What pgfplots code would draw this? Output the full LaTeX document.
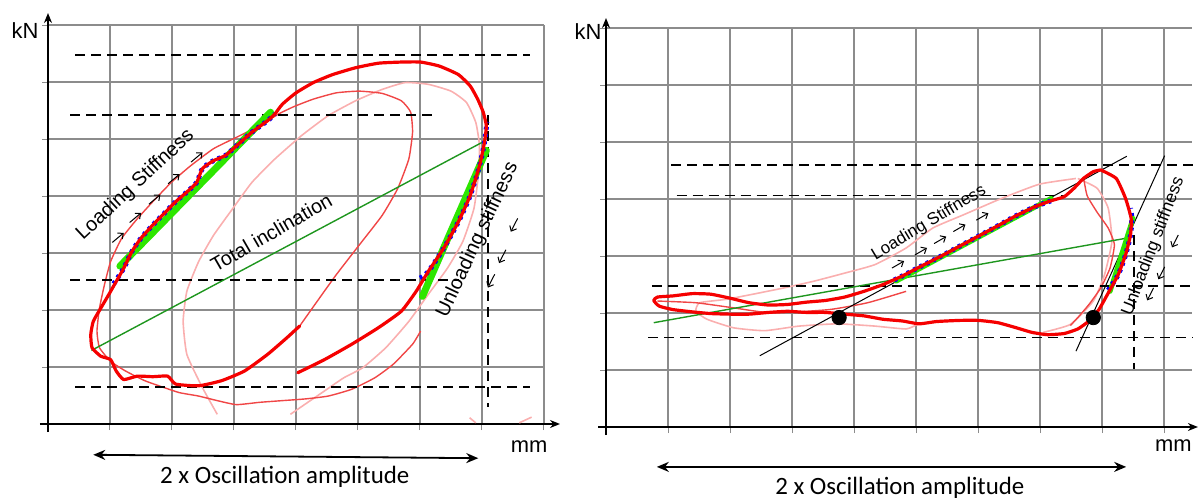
\documentclass[border=0pt]{standalone}
\usepackage{fontspec}
\setmainfont{Liberation Sans}
\newfontfamily\calibri{Carlito}
\usepackage{pgfplots}
\pgfplotsset{compat=1.18}
\usetikzlibrary{arrows.meta}

\definecolor{curvered}{RGB}{245,0,0}
\definecolor{thinred}{RGB}{240,70,70}
\definecolor{pale}{RGB}{250,175,175}
\definecolor{lime}{RGB}{45,230,0}
\definecolor{linegreen}{RGB}{30,150,30}
\definecolor{gridgray}{RGB}{140,140,140}

\pgfplotsset{
  panel/.style={
    scale only axis, clip=false, anchor=south west,
    axis lines=left,
    axis line style={line width=0.7bp},
    ymin=0, ymax=7, ytick={0,...,7},
    xticklabels={}, yticklabels={},
    tick align=outside, major tick length=3bp,
    tick style={gridgray, line width=0.5bp},
    grid=major, grid style={gridgray, line width=0.6bp},
  },
  bigred/.style={curvered, line width=1.6bp, line join=round, line cap=round, smooth, tension=0.3},
  smallred/.style={thinred, line width=0.7bp, line join=round, smooth, tension=0.3},
  palered/.style={pale, line width=0.8bp, line join=round, smooth, tension=0.3},
  fitline/.style={lime, line width=3.5bp, line cap=round},
  slopeline/.style={linegreen, line width=0.7bp},
  dotline/.style={blue, line width=2.5bp, dash pattern=on 1.4bp off 2.2bp, smooth},
  guide/.style={black, line width=0.9bp, dash pattern=on 5bp off 3bp},
}
\tikzset{
  sarrow/.style={black, line width=0.5bp, -{Straight Barb[length=2.2bp,width=3.8bp]}},
  span/.style={black, line width=0.9bp, {Stealth[length=6bp,width=5bp]}-{Stealth[length=6bp,width=5bp]}},
}
\newcommand{\sarr}[3]{\draw[sarrow] (axis cs:#1) ++({#2+180}:#3/2) -- ++(#2:#3);}

\begin{document}
\begin{tikzpicture}
\useasboundingbox (0,0) rectangle (599bp,249bp);

% ---------------- left panel ----------------
\begin{axis}[panel, at={(24bp,37bp)}, width=248bp, height=199.5bp,
  xmin=0, xmax=8, xtick={0,...,8},
  x axis line style={-{Stealth[length=5bp,width=4bp]}, shorten >=-8bp, shorten <=-4bp},
  y axis line style={-{Stealth[length=5bp,width=4bp]}, shorten >=-6bp, shorten <=-4bp}]

\addplot[palered] coordinates {
(2.73,0.17) (2.49,0.64) (2.24,1.22) (2.18,1.80) (2.24,2.33) (2.43,2.85) (2.67,3.31)
(2.98,3.78) (3.29,4.24) (3.66,4.65) (4.09,5.06) (4.52,5.41) (4.96,5.67) (5.39,5.87)
(5.76,5.99) (6.13,5.96) (6.50,5.84) (6.75,5.64) (6.90,5.29) (6.96,4.88) (6.94,4.36)
(6.87,3.78) (6.69,3.20) (6.44,2.73) (6.13,2.27) (5.82,1.80) (5.45,1.34) (5.08,0.99)
(4.77,0.81) (4.46,0.58) (4.15,0.35) (3.91,0.17)};
\addplot[palered] coordinates {(6.80,0.11) (6.90,0.02)};
\addplot[palered] coordinates {(7.60,0.02) (7.80,0.12)};

\addplot[smallred] coordinates {
(4.06,1.72) (4.34,2.15) (4.65,2.62) (5.02,3.14) (5.39,3.66) (5.64,4.13) (5.82,4.65)
(5.88,5.12) (5.85,5.47) (5.70,5.67) (5.39,5.80) (5.02,5.84) (4.65,5.81) (4.28,5.70)
(3.97,5.57) (3.72,5.44) (3.41,5.23) (3.04,5.03) (2.67,4.83) (2.30,4.53) (1.99,4.24)
(1.69,3.90) (1.44,3.60) (1.19,3.26) (1.01,2.85) (0.91,2.44) (0.83,2.03) (0.79,1.63)
(0.83,1.34) (1.01,1.10) (1.25,0.93) (1.56,0.76) (1.87,0.64) (2.12,0.55) (2.43,0.49)
(2.73,0.41) (3.04,0.34) (3.41,0.38) (3.78,0.41) (4.15,0.44) (4.52,0.49) (4.90,0.61)
(5.27,0.81) (5.57,1.05) (5.88,1.40) (6.01,1.63)};

\addplot[guide] coordinates {(0.44,6.47) (7.77,6.47)};
\addplot[guide] coordinates {(0.36,5.42) (6.20,5.42)};
\addplot[guide] coordinates {(0.36,2.53) (6.63,2.53)};
\addplot[guide] coordinates {(0.44,0.65) (7.77,0.65)};
\addplot[guide] coordinates {(7.10,5.42) (7.10,0.30)};

\addplot[slopeline] coordinates {(0.70,1.29) (7.00,4.94)};
\addplot[fitline] coordinates {(1.16,2.77) (3.59,5.47)};
\addplot[fitline] coordinates {(6.04,2.24) (7.07,4.80)};

\addplot[dotline] coordinates {
(1.06,2.46) (1.22,2.73) (1.35,3.02) (1.50,3.26) (1.69,3.49) (1.87,3.69) (2.06,3.90)
(2.24,4.07) (2.40,4.24) (2.49,4.48) (2.67,4.62) (2.86,4.71) (3.04,4.88) (3.29,5.12)
(3.54,5.32) (3.66,5.44)};
\addplot[dotline] coordinates {
(6.00,2.56) (6.13,2.67) (6.38,3.08) (6.62,3.55) (6.81,4.01) (6.96,4.53) (7.04,4.94)
(7.08,5.30)};

\addplot[bigred] coordinates {
(4.03,0.90) (4.46,1.13) (4.90,1.40) (5.33,1.69) (5.70,1.98) (5.94,2.33) (6.13,2.67)
(6.38,3.08) (6.62,3.55) (6.81,4.01) (6.96,4.53) (7.04,4.94) (7.07,5.23) (7.02,5.47)
(6.93,5.70) (6.81,5.93) (6.62,6.13) (6.31,6.28) (6.01,6.35) (5.70,6.35) (5.33,6.33)
(4.96,6.25) (4.59,6.13) (4.28,5.99) (4.00,5.81) (3.78,5.61) (3.66,5.44) (3.54,5.32)
(3.29,5.12) (3.04,4.88) (2.86,4.71) (2.67,4.62) (2.49,4.48) (2.40,4.24) (2.24,4.07)
(2.06,3.90) (1.87,3.69) (1.69,3.49) (1.50,3.26) (1.35,3.02) (1.22,2.73) (1.10,2.50)
(0.98,2.27) (0.85,2.03) (0.73,1.80) (0.69,1.57) (0.71,1.34) (0.85,1.19) (1.01,1.13)
(1.10,0.93) (1.22,0.78) (1.44,0.84) (1.69,0.83) (1.93,0.84) (2.06,0.70) (2.43,0.67)
(2.80,0.76) (3.17,0.93) (3.54,1.22) (3.85,1.51) (4.06,1.72)};

\sarr{1.13,3.27}{40}{7.5bp}
\sarr{1.41,3.62}{40}{7.5bp}
\sarr{1.72,3.94}{40}{7.5bp}
\sarr{2.03,4.30}{40}{7.5bp}
\sarr{2.40,4.68}{40}{7.5bp}
\sarr{7.52,3.49}{243}{7.5bp}
\sarr{7.33,2.94}{243}{7.5bp}
\sarr{7.15,2.51}{243}{7.5bp}

\node[rotate=43, font=\fontsize{10}{12}\selectfont] at (axis cs:1.41,4.19) {Loading Stiffness};
\node[rotate=30, font=\fontsize{10}{12}\selectfont] at (axis cs:3.60,3.36) {Total inclination};
\node[rotate=65, font=\fontsize{10}{12}\selectfont] at (axis cs:6.93,3.23) {Unloading stiffness};

\node[font=\fontsize{11}{13}\selectfont] at (axis cs:-0.37,6.91) {kN};
\node[font=\fontsize{11}{13}\selectfont] at (axis cs:7.76,-0.40) {mm};
\draw[span] (axis cs:0.73,-0.54) -- (axis cs:6.94,-0.60);
\node[font=\calibri\fontsize{12.5}{15}\selectfont] at (axis cs:3.82,-0.93) {2 x Oscillation amplitude};
\end{axis}

% ---------------- right panel ----------------
\begin{axis}[panel, at={(303bp,35.5bp)}, width=292.95bp, height=199.5bp,
  xmin=0, xmax=9.45, xtick={0,...,9},
  x axis line style={-{Stealth[length=5bp,width=4bp]}, shorten >=-3bp, shorten <=-4bp},
  y axis line style={-{Stealth[length=5bp,width=4bp]}, shorten >=-5bp, shorten <=-4bp}]

\addplot[palered] coordinates {
(7.58,4.36) (6.99,4.26) (6.38,4.01) (5.76,3.72) (5.27,3.49) (4.84,3.14) (4.34,2.85)
(3.85,2.70) (3.36,2.56) (2.87,2.44) (2.37,2.33) (1.94,2.24) (1.51,2.18) (1.45,2.03)
(1.63,1.89) (2.06,1.74) (2.56,1.69) (3.11,1.77) (3.73,1.81) (4.34,1.77) (4.84,1.72)
(5.02,1.80)};
\addplot[palered] coordinates {
(7.05,1.66) (7.49,1.80) (7.86,2.21) (8.04,2.67) (8.16,3.26) (8.10,3.84) (7.92,4.19)
(7.61,4.36)};

\addplot[smallred] coordinates {
(7.70,4.39) (7.76,4.06) (7.92,3.77) (8.10,3.49) (8.20,3.20) (8.13,2.79) (7.98,2.44)
(7.79,2.15) (7.61,1.92) (7.49,1.78)};
\addplot[smallred] coordinates {
(0.83,2.21) (1.45,2.18) (2.06,2.09) (2.68,2.00) (3.60,2.06) (4.22,2.18) (4.84,2.38)};

\addplot[guide] coordinates {(1.05,4.59) (9.46,4.59)};
\addplot[guide] coordinates {(1.14,4.06) (7.42,4.06)};
\addplot[guide] coordinates {(0.74,2.47) (9.46,2.47)};
\addplot[guide] coordinates {(0.68,1.57) (9.46,1.57)};
\addplot[guide] coordinates {(8.52,3.37) (8.52,1.02)};

\addplot[black, line width=0.5bp] coordinates {(2.48,1.25) (8.40,4.75)};
\addplot[black, line width=0.5bp] coordinates {(7.58,1.33) (9.01,4.76)};

\addplot[slopeline] coordinates {(0.77,1.83) (8.38,3.31)};
\addplot[fitline, line width=2.5bp] coordinates {(4.68,2.56) (7.18,4.01)};
\addplot[fitline, line width=2.5bp] coordinates {(8.13,2.38) (8.50,3.66)};

\addplot[dotline] coordinates {
(4.65,2.58) (4.78,2.65) (5.08,2.82) (5.39,2.99) (5.70,3.17) (6.01,3.35) (6.32,3.53)
(6.62,3.71) (6.93,3.87) (7.21,3.98)};
\addplot[dotline] coordinates {
(8.10,2.40) (8.26,2.67) (8.38,3.02) (8.46,3.37) (8.48,3.66) (8.46,3.84)};

\addplot[bigred] coordinates {
(7.98,4.51) (8.23,4.36) (8.38,4.01) (8.47,3.66) (8.46,3.37) (8.38,3.02) (8.26,2.67)
(8.10,2.35) (7.95,2.06) (7.79,1.86) (7.61,1.72) (7.39,1.64) (7.12,1.62) (6.87,1.66)
(6.62,1.74) (6.32,1.83) (6.01,1.87) (5.70,1.87) (5.33,1.85) (5.05,1.81) (4.78,1.86)
(4.47,1.89) (4.16,1.95) (3.85,1.98) (3.54,2.01) (3.23,2.01) (2.93,2.03) (2.62,2.01)
(2.31,1.98) (2.00,1.98) (1.69,1.99) (1.39,2.02) (1.08,2.06) (0.86,2.12) (0.77,2.22)
(0.83,2.28) (1.08,2.30) (1.39,2.34) (1.69,2.33) (2.00,2.26) (2.31,2.18) (2.62,2.14)
(2.93,2.15) (3.23,2.19) (3.54,2.22) (3.85,2.28) (4.16,2.38) (4.47,2.50) (4.78,2.65)
(5.08,2.82) (5.39,2.99) (5.70,3.17) (6.01,3.35) (6.32,3.53) (6.62,3.71) (6.93,3.87)
(7.18,3.97) (7.39,4.04) (7.55,4.19) (7.70,4.36) (7.86,4.48) (7.98,4.51)};

\addplot[only marks, mark=*, mark size=3.6bp, black] coordinates {(3.76,1.92) (7.86,1.92)};

\sarr{4.71,2.85}{30}{7bp}
\sarr{5.08,3.08}{30}{7bp}
\sarr{5.39,3.28}{30}{7bp}
\sarr{5.70,3.49}{30}{7bp}
\sarr{6.07,3.69}{30}{7bp}
\sarr{9.18,3.26}{243}{7bp}
\sarr{8.96,2.70}{243}{7bp}
\sarr{8.78,2.33}{243}{7bp}

\node[rotate=31, font=\fontsize{8.5}{10}\selectfont] at (axis cs:5.21,3.58) {Loading Stiffness};
\node[rotate=69, font=\fontsize{8.7}{10}\selectfont] at (axis cs:8.83,3.17) {Unloading stiffness};

\node[font=\fontsize{11}{13}\selectfont] at (axis cs:-0.29,6.93) {kN};
\node[font=\fontsize{11}{13}\selectfont] at (axis cs:9.15,-0.33) {mm};
\draw[span] (axis cs:0.82,-0.70) -- (axis cs:8.39,-0.70);
\node[font=\calibri\fontsize{12.5}{15}\selectfont] at (axis cs:4.74,-1.07) {2 x Oscillation amplitude};
\end{axis}
\end{tikzpicture}
\end{document}
